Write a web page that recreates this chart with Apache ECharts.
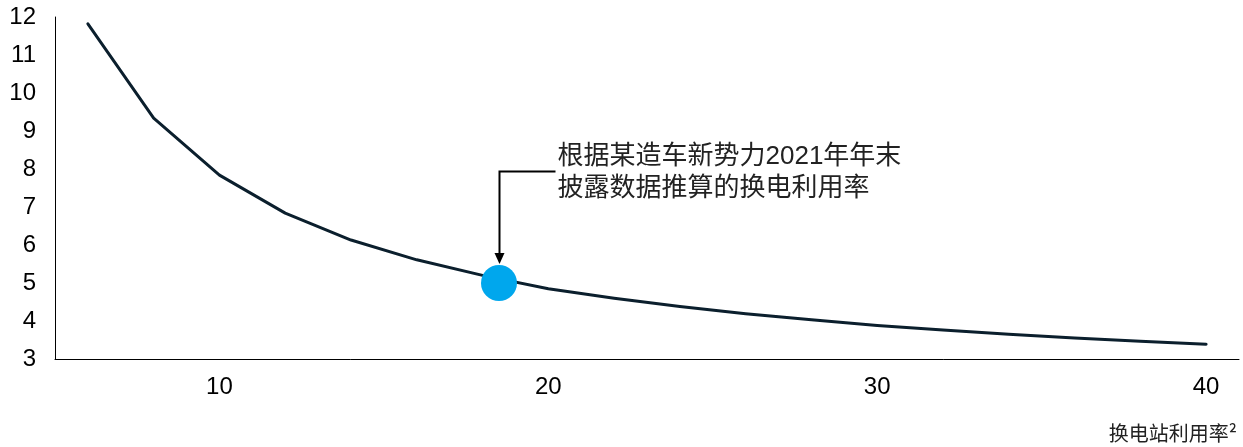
<!DOCTYPE html>
<html><head><meta charset="utf-8">
<script src="https://cdn.jsdelivr.net/npm/echarts@6/dist/echarts.min.js"></script>
<style>html,body{margin:0;padding:0;background:#fff}#c{width:1243px;height:447px}</style>
</head><body><div id="c"></div>
<script>
// Station utilisation (x) vs. value (y)
const xValues = [6, 8, 10, 12, 14, 16, 18, 20, 22, 24, 26, 28, 30, 32, 34, 36, 38, 40];
const yValues = [11.82, 9.34, 7.84, 6.84, 6.13, 5.61, 5.2, 4.85, 4.6, 4.38, 4.19, 4.03, 3.88, 3.76, 3.65, 3.55, 3.47, 3.39];
const highlightPoint = [18.5, 5.0];
const annotationLines = ['根据某造车新势力2021年年末', '披露数据推算的换电利用率'];
const xAxisTitle = '换电站利用率²';
const xLabelValues = [10, 20, 30, 40];

const chart = echarts.init(document.getElementById('c'), null, {renderer: 'canvas'});
chart.setOption({
  animation: false,
  grid: {left: 55, right: 4, top: 17, bottom: 88},
  xAxis: {
    type: 'value', min: 5, max: 41, interval: 5,
    axisLine: {show: true, lineStyle: {color: '#000', width: 1}},
    axisTick: {show: false},
    splitLine: {show: false},
    axisLabel: {
      formatter: v => xLabelValues.indexOf(v) >= 0 ? String(v) : '',
      fontSize: 24, color: '#000', fontFamily: 'Liberation Sans', margin: 16
    }
  },
  yAxis: {
    type: 'value', min: 3, max: 12, interval: 1,
    axisLine: {show: true, lineStyle: {color: '#000', width: 1}},
    axisTick: {show: false},
    splitLine: {show: false},
    axisLabel: {fontSize: 24, color: '#000', fontFamily: 'Liberation Sans', margin: 19}
  },
  series: [
    {
      type: 'line',
      data: xValues.map((x, i) => [x, yValues[i]]),
      showSymbol: false,
      lineStyle: {color: '#0b1f2d', width: 3, cap: 'round', join: 'round'},
      z: 2
    },
    {
      type: 'scatter',
      data: [highlightPoint],
      symbolSize: 36,
      itemStyle: {color: '#00a7ed', opacity: 1},
      z: 3
    }
  ]
});

const p = chart.convertToPixel({gridIndex: 0}, highlightPoint);
const px = Math.round(p[0]) + 0.5, py = p[1];
const hy = Math.round(py - 112) + 0.5;
chart.setOption({
  graphic: [
    {type: 'polyline', shape: {points: [[px + 56, hy], [px, hy], [px, py - 28]]},
     style: {stroke: '#000', lineWidth: 2, fill: null}, z: 10},
    {type: 'polygon', shape: {points: [[px - 5, py - 30], [px + 5, py - 30], [px, py - 19]]},
     style: {fill: '#000'}, z: 10},
    {type: 'text', x: px + 58, y: py - 126,
     style: {text: annotationLines[0], fontSize: 26, fontFamily: 'Liberation Sans, "Noto Sans CJK SC"', fill: '#222', textVerticalAlign: 'middle'}, z: 10},
    {type: 'text', x: px + 58, y: py - 94,
     style: {text: annotationLines[1], fontSize: 26, fontFamily: 'Liberation Sans, "Noto Sans CJK SC"', fill: '#222', textVerticalAlign: 'middle'}, z: 10},
    {type: 'text', right: 6, top: 423,
     style: {text: xAxisTitle, fontSize: 20, fontFamily: '"Noto Sans CJK SC"', fill: '#222'}, z: 10}
  ]
});
</script>
</body></html>
